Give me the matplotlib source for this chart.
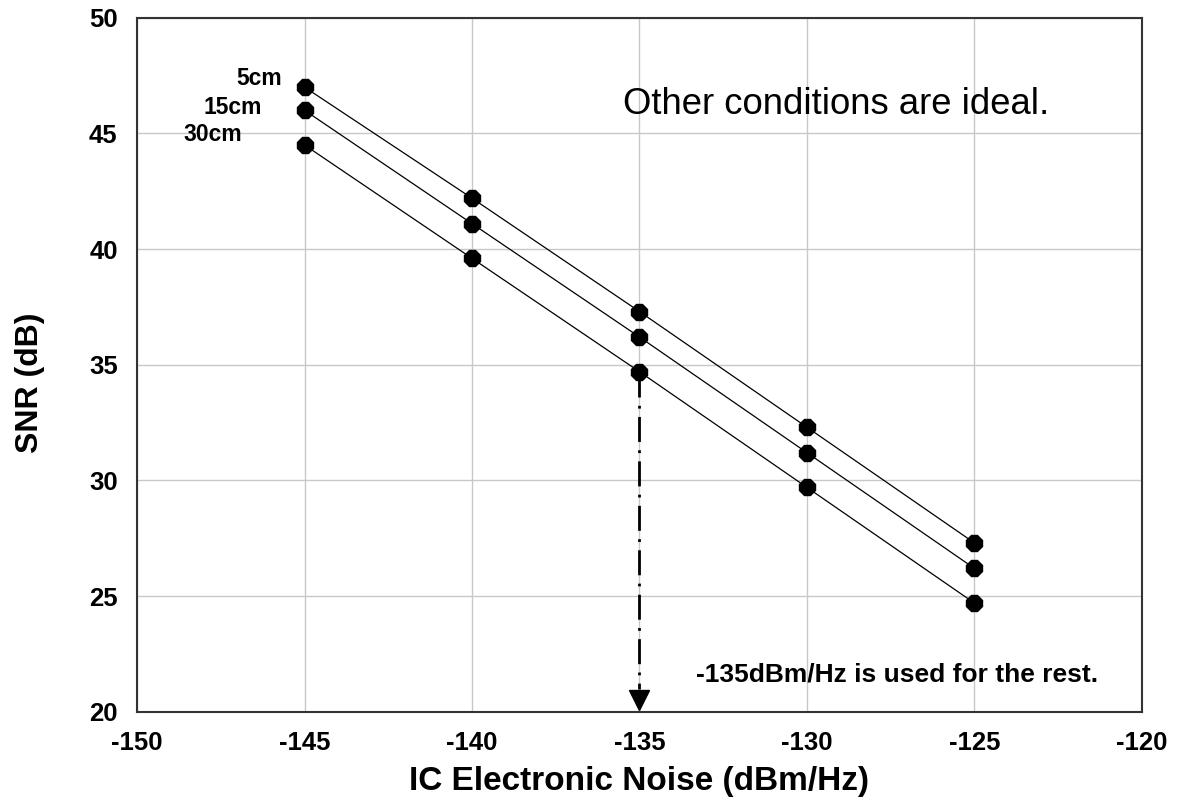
import matplotlib.pyplot as plt

plt.rcParams['font.family'] = ['Liberation Sans', 'DejaVu Sans']
plt.rcParams['axes.unicode_minus'] = False

# IC electronic noise (dBm/Hz)
noise = [-145, -140, -135, -130, -125]

# SNR (dB) for each distance
snr_5cm = [47.0, 42.2, 37.3, 32.3, 27.3]
snr_15cm = [46.0, 41.1, 36.2, 31.2, 26.2]
snr_30cm = [44.5, 39.6, 34.7, 29.7, 24.7]

fig = plt.figure(figsize=(11.82, 8.07), dpi=100)
ax = fig.add_axes([0.116, 0.118, 0.85, 0.86])

for s in [snr_5cm, snr_15cm, snr_30cm]:
    ax.plot(noise, s, color='black', lw=0.9, marker='8', markersize=12.5, zorder=3)

# labels next to first points
ax.text(-145.67, 47.1, '5cm', ha='right', va='baseline', fontsize=16.5, fontweight='bold')
ax.text(-146.27, 45.85, '15cm', ha='right', va='baseline', fontsize=16.5, fontweight='bold')
ax.text(-146.87, 44.67, '30cm', ha='right', va='baseline', fontsize=16.5, fontweight='bold')

# arrow from -135 point down to the axis
ax.plot([-135, -135], [snr_30cm[2], 21.0], color='black', lw=2, ls=(0, (9, 3, 1, 3)), zorder=2)
ax.plot([-135], [20.5], marker='v', color='black', markersize=15, clip_on=False, zorder=3)

ax.text(-135.5, 45.85, 'Other conditions are ideal.', fontsize=26.3, ha='left', va='baseline')
ax.text(-133.3, 21.3, '-135dBm/Hz is used for the rest.', fontsize=19, fontweight='bold',
        ha='left', va='baseline')

ax.set_xlim(-150, -120)
ax.set_ylim(20, 50)
ax.set_xticks(range(-150, -119, 5))
ax.set_yticks(range(20, 51, 5))
ax.grid(True, color='#c8c8c8', lw=1)
ax.set_axisbelow(True)
ax.tick_params(length=0, labelsize=18.5)
ax.tick_params(axis='x', pad=13.5)
ax.tick_params(axis='y', pad=14)
for lab in ax.get_xticklabels() + ax.get_yticklabels():
    lab.set_fontweight('bold')
for sp in ax.spines.values():
    sp.set_color('#333333')
    sp.set_linewidth(1.5)

ax.set_xlabel('IC Electronic Noise (dBm/Hz)', fontsize=24, fontweight='bold', va='center')
ax.set_ylabel('SNR (dB)', fontsize=23, fontweight='bold', va='center')
ax.xaxis.set_label_coords(0.5, -0.1)
ax.yaxis.set_label_coords(-0.107, 0.474)

fig.savefig('out.png', dpi=100)
